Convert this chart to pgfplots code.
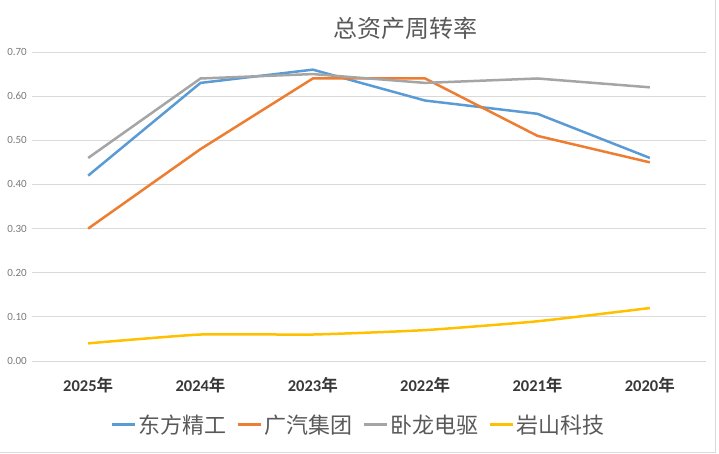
\documentclass[border=0pt]{standalone}
\usepackage{pgfplots}
\pgfplotsset{compat=1.18}
\usepackage{fontspec}
\setmainfont{Carlito}
\newfontfamily\cjk{Noto Sans CJK SC}
\newfontfamily\cjkb{Noto Sans CJK SC Bold}
\definecolor{sblue}{HTML}{5B9BD5}
\definecolor{sorange}{HTML}{ED7D31}
\definecolor{sgray}{HTML}{A5A5A5}
\definecolor{syellow}{HTML}{FFC000}
\definecolor{txt}{HTML}{595959}
\definecolor{gridc}{HTML}{D9D9D9}
\newcommand{\yr}[1]{{\bfseries #1}{\cjkb 年}}
\begin{document}
\begin{tikzpicture}
\path[use as bounding box] (0pt,0pt) rectangle (719pt,453pt);
\draw[gridc, line width=1pt] (715pt,453pt) -- (715pt,0.5pt) -- (0pt,0.5pt);
\node[text=txt, font=\cjk\fontsize{24}{24}\selectfont] at (405pt,425pt) {总资产周转率};
\begin{axis}[
    at={(32pt,92pt)}, anchor=south west,
    scale only axis,
    width=674pt, height=309pt,
    xmin=-0.5, xmax=5.5,
    ymin=0, ymax=0.7,
    ytick={0,0.1,...,0.7},
    xtick=data,
    xticklabels={\yr{2025},\yr{2024},\yr{2023},\yr{2022},\yr{2021},\yr{2020}},
    yticklabel={\pgfmathprintnumber[fixed,fixed zerofill,precision=2]{\tick}},
    /pgf/number format/assume math mode=true,
    axis line style={draw=none},
    major tick length=0pt,
    ymajorgrids,
    grid style={gridc, line width=1pt},
    yticklabel style={font=\fontsize{11}{11}\selectfont, text=txt!80, inner sep=0pt, xshift=-5pt},
    xticklabel style={font=\fontsize{16.5}{16.5}\selectfont, text=txt!120, anchor=center, yshift=-24pt},
    legend style={at={(0.4837,-0.207)}, anchor=center, draw=none, fill=none,
        font=\cjk\fontsize{22}{22}\selectfont, text=txt,
        /tikz/every even column/.append style={column sep=8pt}},
    legend columns=4,
    legend cell align=left,
    legend image code/.code={\draw[#1, line width=3pt] (0pt,0pt) -- (23pt,0pt);},
    every axis plot/.append style={line width=2.5pt},
]
\addplot[sblue, no marks] coordinates {(0,0.42) (1,0.63) (2,0.66) (3,0.59) (4,0.56) (5,0.46)};
\addlegendentry{东方精工}
\addplot[sorange, no marks] coordinates {(0,0.30) (1,0.48) (2,0.64) (3,0.64) (4,0.51) (5,0.45)};
\addlegendentry{广汽集团}
\addplot[sgray, no marks] coordinates {(0,0.46) (1,0.64) (2,0.65) (3,0.63) (4,0.64) (5,0.62)};
\addlegendentry{卧龙电驱}
\addplot[syellow, no marks, smooth, tension=0.3] coordinates {(0,0.04) (1,0.06) (2,0.06) (3,0.07) (4,0.09) (5,0.12)};
\addlegendentry{岩山科技}
\end{axis}
\end{tikzpicture}
\end{document}
